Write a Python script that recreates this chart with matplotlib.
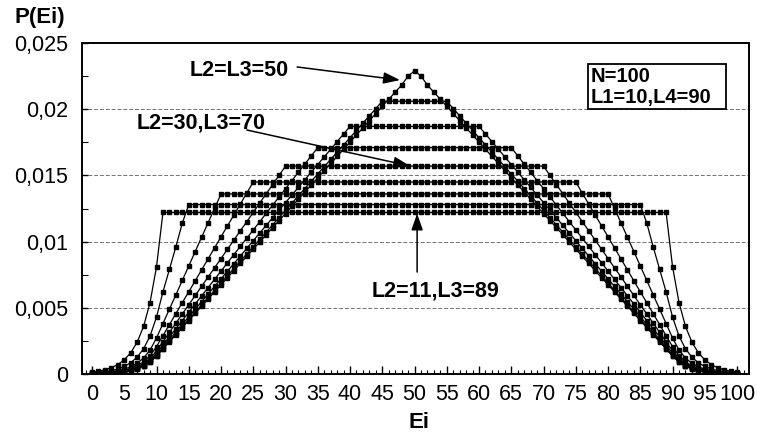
import matplotlib
matplotlib.use("Agg")
import matplotlib.pyplot as plt
from matplotlib.patches import Rectangle
from matplotlib.ticker import MultipleLocator, FuncFormatter
import numpy as np

plt.rcParams['font.family'] = ['Liberation Sans', 'DejaVu Sans']

# energy levels 0..100
ei = list(range(0, 101))

# L2 of each curve (L3 = 100 - L2) and height of its flat part
l2_values = [11, 15, 20, 25, 30, 35, 40, 45, 50]
plateau = [0.0122, 0.0128, 0.0136, 0.0145, 0.0157, 0.0171, 0.0187, 0.0206, 0.0229]

# left flank of each curve, Ei = 0 .. L2-1 (right flank is the mirror image)
rise_11 = [0.00014, 0.00021, 0.00032, 0.00047, 0.00071, 0.00107, 0.0016, 0.0024,
           0.0036, 0.0054, 0.0081]
rise_15 = [0.00007, 0.00011, 0.00017, 0.00025, 0.00038, 0.00057, 0.00085, 0.00127,
           0.00191, 0.00287, 0.0043, 0.0062, 0.0079, 0.0096, 0.0114]
rise_20 = [0.00005, 0.00007, 0.00011, 0.00016, 0.00024, 0.00036, 0.00054, 0.00081,
           0.00121, 0.00181, 0.00272, 0.00381, 0.0049, 0.00598, 0.00707, 0.00816,
           0.00925, 0.01034, 0.01142, 0.01251]
rise_25 = [0.00004, 0.00005, 0.00008, 0.00012, 0.00018, 0.00027, 0.00041, 0.00061,
           0.00092, 0.00138, 0.00207, 0.0029, 0.00373, 0.00456, 0.00539, 0.00621,
           0.00704, 0.00787, 0.0087, 0.00953, 0.01036, 0.01119, 0.01201, 0.01284,
           0.01367]
rise_30 = [0.00003, 0.00005, 0.00007, 0.0001, 0.00015, 0.00023, 0.00034, 0.00052,
           0.00078, 0.00116, 0.00174, 0.00244, 0.00314, 0.00384, 0.00454, 0.00523,
           0.00593, 0.00663, 0.00733, 0.00802, 0.00872, 0.00942, 0.01012, 0.01082,
           0.01151, 0.01221, 0.01291, 0.01361, 0.0143, 0.015]
rise_35 = [0.00003, 0.00004, 0.00006, 0.00009, 0.00014, 0.0002, 0.00031, 0.00046,
           0.00069, 0.00104, 0.00155, 0.00218, 0.0028, 0.00342, 0.00404, 0.00466,
           0.00529, 0.00591, 0.00653, 0.00715, 0.00777, 0.0084, 0.00902, 0.00964,
           0.01026, 0.01088, 0.0115, 0.01213, 0.01275, 0.01337, 0.01399, 0.01461,
           0.01524, 0.01586, 0.01648]
rise_40 = [0.00002, 0.00004, 0.00006, 0.00008, 0.00013, 0.00019, 0.00028, 0.00043,
           0.00064, 0.00096, 0.00144, 0.00201, 0.00259, 0.00317, 0.00374, 0.00432,
           0.00489, 0.00547, 0.00604, 0.00662, 0.00719, 0.00777, 0.00834, 0.00892,
           0.00949, 0.01007, 0.01065, 0.01122, 0.0118, 0.01237, 0.01295, 0.01352,
           0.0141, 0.01467, 0.01525, 0.01582, 0.0164, 0.01697, 0.01755, 0.01813]
rise_45 = [0.00002, 0.00004, 0.00005, 0.00008, 0.00012, 0.00018, 0.00027, 0.00041,
           0.00061, 0.00092, 0.00137, 0.00192, 0.00247, 0.00302, 0.00357, 0.00412,
           0.00467, 0.00522, 0.00577, 0.00632, 0.00687, 0.00742, 0.00797, 0.00852,
           0.00906, 0.00961, 0.01016, 0.01071, 0.01126, 0.01181, 0.01236, 0.01291,
           0.01346, 0.01401, 0.01456, 0.01511, 0.01566, 0.01621, 0.01676, 0.0173,
           0.01785, 0.0184, 0.01895, 0.0195, 0.02005]
rise_50 = [0.00002, 0.00003, 0.00005, 0.00008, 0.00012, 0.00018, 0.00027, 0.0004,
           0.0006, 0.0009, 0.00135, 0.00189, 0.00243, 0.00296, 0.0035, 0.00404,
           0.00458, 0.00512, 0.00566, 0.0062, 0.00674, 0.00727, 0.00781, 0.00835,
           0.00889, 0.00943, 0.00997, 0.01051, 0.01105, 0.01159, 0.01212, 0.01266,
           0.0132, 0.01374, 0.01428, 0.01482, 0.01536, 0.0159, 0.01643, 0.01697,
           0.01751, 0.01805, 0.01859, 0.01913, 0.01967, 0.02021, 0.02075, 0.02128,
           0.02182, 0.0225]
rises = [rise_11, rise_15, rise_20, rise_25, rise_30, rise_35, rise_40, rise_45, rise_50]

fig = plt.figure(figsize=(7.57, 4.38), dpi=100)
ax = fig.add_axes([82 / 757, 1 - 374 / 438, 667 / 757, 331 / 438])

for k, h, rise in zip(l2_values, plateau, rises):
    pe = rise + [h] * (101 - 2 * k) + rise[::-1]
    ax.plot(ei, pe, color='black', lw=0.9, marker='s', markersize=3.5,
            markerfacecolor='black', markeredgecolor='black', zorder=3)

ax.set_xlim(-1.55, 101.85)
ax.set_ylim(0, 0.025)

ax.xaxis.set_major_locator(MultipleLocator(5))
ax.xaxis.set_minor_locator(MultipleLocator(1))
ax.yaxis.set_major_locator(MultipleLocator(0.005))
ax.yaxis.set_minor_locator(MultipleLocator(0.0025))
ax.yaxis.set_major_formatter(FuncFormatter(
    lambda v, p: '0' if abs(v) < 1e-12 else ('%g' % round(v, 4)).replace('.', ',')))

ax.tick_params(axis='x', which='major', direction='in', length=6, width=1,
               labelsize=15.5, pad=7)
ax.tick_params(axis='x', which='minor', direction='in', length=3, width=0.8)
ax.tick_params(axis='y', which='major', direction='in', length=4, width=1,
               labelsize=15.5, pad=10)
ax.tick_params(axis='y', which='minor', direction='in', length=4, width=0.8)
ax.tick_params(top=False, right=False, which='both')

for s in ax.spines.values():
    s.set_linewidth(1.4)
    s.set_color('black')

for g in [0.005, 0.01, 0.015, 0.02]:
    ax.axhline(g, color='0.45', lw=0.7, ls=(0, (4, 2)), zorder=1)

fig.text(40 / 757, 1 - 17 / 438, 'P(Ei)', fontsize=16, fontweight='bold',
         ha='center', va='center')
fig.text(419 / 757, 1 - 423 / 438, 'Ei', fontsize=16, fontweight='bold',
         ha='center', va='center')

# curve labels with arrows
arrow_kw = dict(arrowstyle='-|>,head_length=1.0,head_width=0.35', color='black',
                lw=1.1, shrinkA=0, shrinkB=0)
ax.text(22.8, 0.02296, 'L2=L3=50', fontsize=15.5, fontweight='bold',
        ha='center', va='center')
ax.annotate('', xy=(47.75, 0.0222), xytext=(31.8, 0.02319), arrowprops=arrow_kw)
ax.text(16.9, 0.01896, 'L2=30,L3=70', fontsize=15.5, fontweight='bold',
        ha='center', va='center')
ax.annotate('', xy=(49.3, 0.01571), xytext=(24.0, 0.01843), arrowprops=arrow_kw)
ax.text(53.2, 0.00627, 'L2=11,L3=89', fontsize=15.5, fontweight='bold',
        ha='center', va='center')
ax.annotate('', xy=(50.4, 0.01212), xytext=(50.4, 0.0077), arrowprops=arrow_kw)

# parameter box
fig.patches.append(Rectangle((588 / 757, 1 - 109 / 438), 138 / 757, 45 / 438,
                             transform=fig.transFigure, fill=True, facecolor='white',
                             edgecolor='black', lw=1.3, zorder=5))
fig.text(591 / 757, 1 - 77 / 438, 'N=100', fontsize=14.5, fontweight='bold',
         ha='left', va='center', zorder=6)
fig.text(591 / 757, 1 - 98 / 438, 'L1=10,L4=90', fontsize=14.5, fontweight='bold',
         ha='left', va='center', zorder=6)

fig.savefig('out.png', dpi=100)
